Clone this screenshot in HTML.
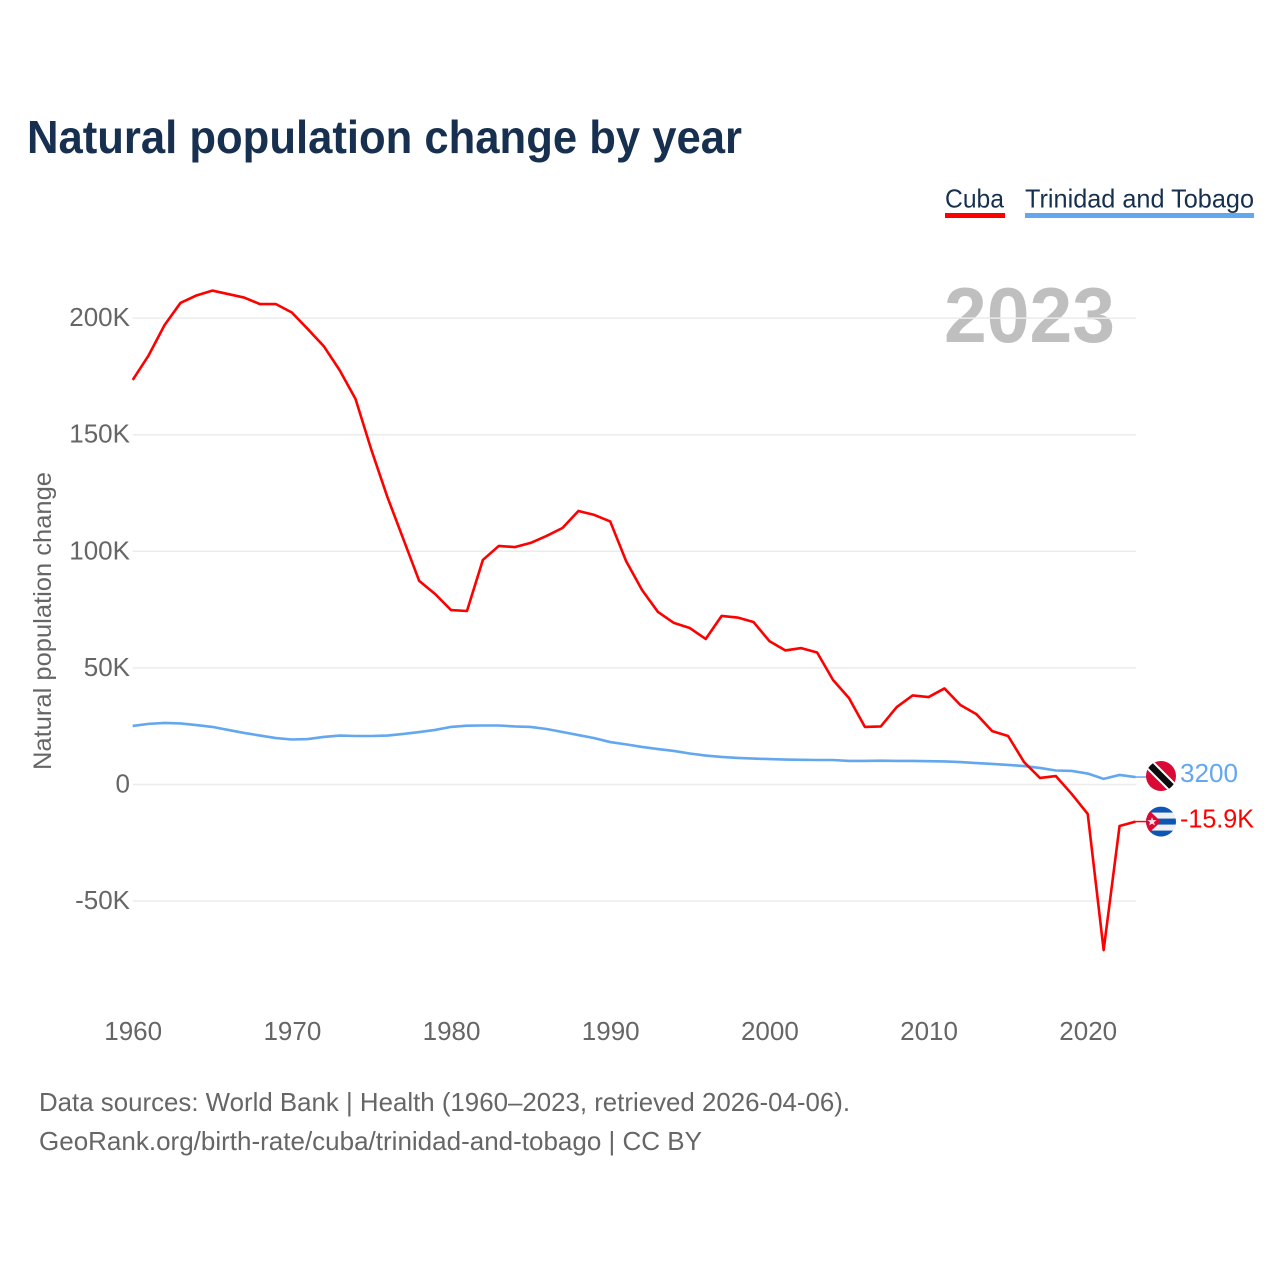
<!DOCTYPE html>
<html lang="en">
<head>
<meta charset="utf-8">
<title>Natural population change by year</title>
<style>
html,body{margin:0;padding:0;background:#fff;}
svg{display:block;font-family:"Liberation Sans",sans-serif;}
</style>
</head>
<body>
<svg id="chart" width="1280" height="1280" viewBox="0 0 1280 1280" xmlns="http://www.w3.org/2000/svg">
  <defs>
    <clipPath id="flag-clip"><circle cx="0" cy="0" r="15"></circle></clipPath>
  </defs>
  <rect x="0" y="0" width="1280" height="1280" fill="#ffffff"></rect>
  <text x="27" y="153" font-size="46" font-weight="700" fill="#17304f" textLength="715" lengthAdjust="spacingAndGlyphs">Natural population change by year</text>

  <g>
    <g>
      <text x="945" y="207.5" font-size="26" fill="#17304f" textLength="59" lengthAdjust="spacingAndGlyphs">Cuba</text>
      <rect x="945" y="213" width="60" height="5" fill="#ff0000"></rect>
    </g>
    <g>
      <text x="1025" y="207.5" font-size="26" fill="#17304f" textLength="229" lengthAdjust="spacingAndGlyphs">Trinidad and Tobago</text>
      <rect x="1025" y="213" width="229" height="5" fill="#63a7ee"></rect>
    </g>
  </g>

  <text x="944" y="342" font-size="78" font-weight="700" fill="#bfbfbf" textLength="171" lengthAdjust="spacingAndGlyphs">2023</text>
  <text transform="translate(51 621) rotate(-90)" text-anchor="middle" font-size="25" fill="#666666" textLength="298" lengthAdjust="spacingAndGlyphs">Natural population change</text>

  <g id="grid"></g>
  <g id="y-ticks"></g>
  <g id="x-ticks"></g>
  <g id="series"></g>

  <g id="flag-tt">
    <g clip-path="url(#flag-clip)">
      <rect x="-16" y="-16" width="32" height="32" fill="#da0a36"></rect>
      <line x1="-16" y1="-16" x2="16" y2="16" stroke="#ffffff" stroke-width="10.5"></line>
      <line x1="-16" y1="-16" x2="16" y2="16" stroke="#0c0c0c" stroke-width="6.5"></line>
    </g>
  </g>
  <g id="flag-cu">
    <g clip-path="url(#flag-clip)">
      <rect x="-16" y="-16" width="32" height="32" fill="#f0f0f0"></rect>
      <rect x="-16" y="-15" width="32" height="6" fill="#0d56b5"></rect>
      <rect x="-16" y="-3" width="32" height="6" fill="#0d56b5"></rect>
      <rect x="-16" y="9" width="32" height="6" fill="#0d56b5"></rect>
      <polygon points="-16,-15 0,0 -16,15" fill="#da0a36"></polygon>
      <polygon points="-9,-4.5 -7.8,-1.5 -4.5,-1.4 -7,0.6 -6.2,3.8 -9,2 -11.8,3.8 -11,0.6 -13.5,-1.4 -10.2,-1.5" fill="#f4e4e8"></polygon>
    </g>
  </g>

  <text id="label-tt" x="1180" font-size="26" fill="#63a7ee" textLength="58" lengthAdjust="spacingAndGlyphs"></text>
  <text id="label-cu" x="1180" font-size="26" fill="#ff0000" textLength="74" lengthAdjust="spacingAndGlyphs"></text>

  <text x="39" y="1111" font-size="26" fill="#666666" textLength="811" lengthAdjust="spacingAndGlyphs">Data sources: World Bank | Health (1960–2023, retrieved 2026-04-06).</text>
  <text x="39" y="1150" font-size="26" fill="#666666" textLength="663" lengthAdjust="spacingAndGlyphs">GeoRank.org/birth-rate/cuba/trinidad-and-tobago | CC BY</text>
</svg>
<script>
const startYear = 1960;
const xTickYears = [1960, 1970, 1980, 1990, 2000, 2010, 2020];
const yTickValues = [-50, 0, 50, 100, 150, 200];
const yTickLabels = ['-50K', '0', '50K', '100K', '150K', '200K'];
const cubaValues = [173.5,184,197,206.5,209.7,211.8,210.3,208.8,206,206,202.4,195.3,188,177.7,165.3,143.4,123.3,105.3,87.3,81.7,74.8,74.4,96.3,102.3,101.8,103.6,106.6,110,117.3,115.6,112.8,95.8,83.4,74,69.3,67.1,62.4,72.3,71.6,69.7,61.5,57.5,58.5,56.6,44.8,37.1,24.7,24.9,33.2,38.2,37.5,41.2,34.1,30.2,22.9,20.8,9.6,2.8,3.6,-4.1,-12.6,-71,-17.8,-15.9];
const trinidadValues = [25.1,26,26.4,26.2,25.5,24.7,23.4,22.1,21,19.9,19.3,19.5,20.4,21,20.8,20.8,21,21.7,22.5,23.4,24.7,25.2,25.3,25.3,24.9,24.7,23.8,22.5,21.2,19.9,18.2,17.2,16.1,15.2,14.4,13.3,12.4,11.8,11.4,11.1,10.9,10.7,10.6,10.5,10.5,10.1,10.1,10.2,10.1,10.1,10,9.9,9.6,9.2,8.8,8.4,7.9,7.1,6,5.8,4.7,2.4,4.1,3.2];
const cubaEndLabel = '-15.9K';
const trinidadEndLabel = '3200';

const NS = 'http://www.w3.org/2000/svg';
const xScale = function (year) { return 132.7 + (year - 1960) * 15.917; };
const yScale = function (v) { return 784.5 - v * 2.332; };
const gridEnd = 1136;
const flagX = 1161;

function svgEl(tag, parent) {
  const el = document.createElementNS(NS, tag);
  parent.appendChild(el);
  return el;
}

const grid = document.getElementById('grid');
const yTicks = document.getElementById('y-ticks');
yTickValues.forEach(function (v, i) {
  const line = svgEl('line', grid);
  
  
  line.setAttribute('x1', xScale(startYear));
  line.setAttribute('x2', gridEnd);
  line.setAttribute('y1', yScale(v));
  line.setAttribute('y2', yScale(v));
  line.setAttribute('stroke', '#ebebeb');
  line.setAttribute('stroke-width', '1.5');
  const t = svgEl('text', yTicks);
  
  
  t.setAttribute('x', 130);
  t.setAttribute('y', yScale(v) + 8);
  t.setAttribute('text-anchor', 'end');
  t.setAttribute('font-size', '26');
  t.setAttribute('fill', '#666666');
  t.textContent = yTickLabels[i];
});

const xTicks = document.getElementById('x-ticks');
xTickYears.forEach(function (year) {
  const t = svgEl('text', xTicks);
  
  
  t.setAttribute('x', xScale(year) + 0.5);
  t.setAttribute('y', 1040);
  t.setAttribute('text-anchor', 'middle');
  t.setAttribute('font-size', '26');
  t.setAttribute('fill', '#666666');
  t.textContent = String(year);
});

const seriesGroup = document.getElementById('series');
function drawSeries(values, color, name) {
  const d = values.map(function (v, i) {
    return (i ? 'L' : 'M') + xScale(startYear + i).toFixed(2) + ' ' + yScale(v).toFixed(2);
  }).join(' ');
  const last = values[values.length - 1];
  const path = svgEl('path', seriesGroup);
  
  
  path.setAttribute('d', d);
  path.setAttribute('fill', 'none');
  path.setAttribute('stroke', color);
  path.setAttribute('stroke-width', '2.6');
  path.setAttribute('stroke-linejoin', 'round');
  const conn = svgEl('line', seriesGroup);
  
  
  conn.setAttribute('x1', xScale(startYear + values.length - 1));
  conn.setAttribute('x2', flagX - 14);
  conn.setAttribute('y1', yScale(last));
  conn.setAttribute('y2', yScale(last));
  conn.setAttribute('stroke', color);
  conn.setAttribute('stroke-width', '1.5');
}
drawSeries(trinidadValues, '#63a7ee', 'line-trinidad-and-tobago');
drawSeries(cubaValues, '#ff0000', 'line-cuba');

const ttY = yScale(trinidadValues[trinidadValues.length - 1]);
const cuY = yScale(cubaValues[cubaValues.length - 1]);
document.getElementById('flag-tt').setAttribute('transform', 'translate(' + flagX + ' ' + (ttY - 1) + ')');
document.getElementById('flag-cu').setAttribute('transform', 'translate(' + flagX + ' ' + cuY + ')');
const labelTt = document.getElementById('label-tt');
labelTt.setAttribute('y', ttY + 5);
labelTt.textContent = trinidadEndLabel;
const labelCu = document.getElementById('label-cu');
labelCu.setAttribute('y', cuY + 6);
labelCu.textContent = cubaEndLabel;
</script>
</body>
</html>
